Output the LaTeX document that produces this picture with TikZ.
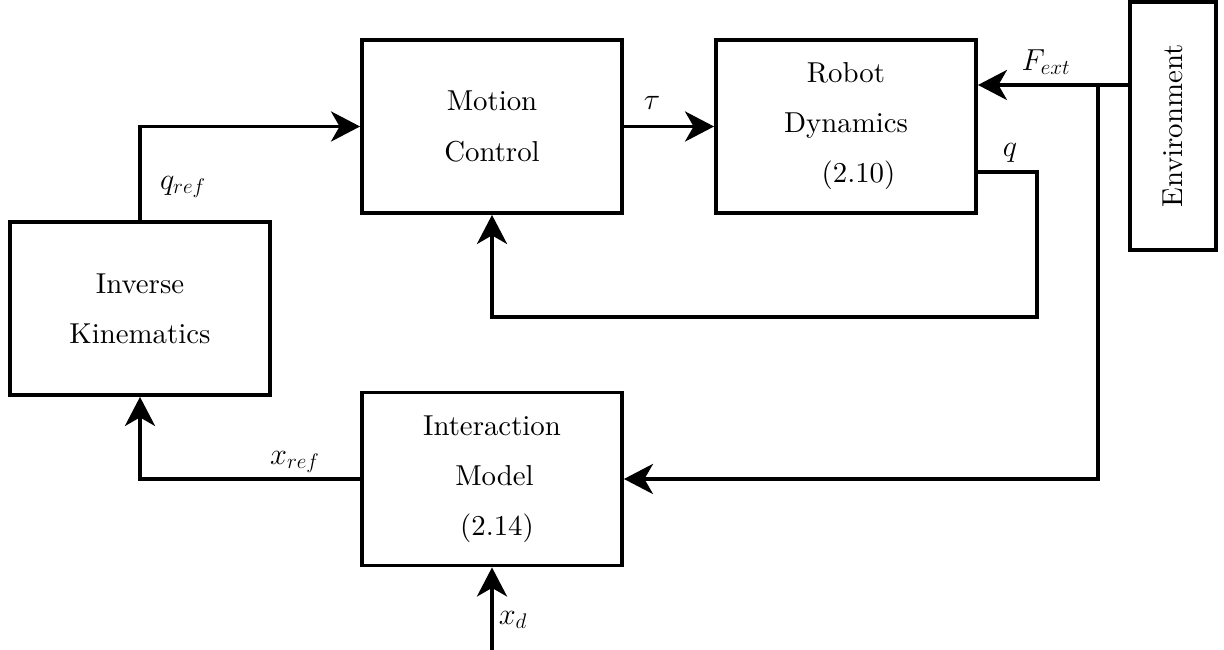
\documentclass[tikz,border=0pt]{standalone}
\usepackage{amsmath,amsfonts,amssymb}
\usepackage{fontspec}
\setmainfont{lmroman10-regular.otf}[ItalicFont=lmroman10-italic.otf,BoldFont=lmroman10-bold.otf]
\usepackage{tikz}
\usetikzlibrary{arrows.meta}

\begin{document}
\begin{tikzpicture}
      \useasboundingbox(0,0) rectangle (24.48,13);
      \tikzset{B/.style = {shape=rectangle, draw, line width=2.2pt, minimum width=5.2cm, minimum height=3.46cm, inner sep=0pt, align=center, font=\fontsize{16.4}{19}\selectfont}}
      \tikzset{E/.style = {draw, line width=2.2pt, -{Stealth[length=0.58cm,width=0.6cm,inset=0.17cm]}}}
      \tikzset{L/.style = {font=\fontsize{17}{20}\selectfont, inner sep=0pt}}
      \node[B](ik) at (2.8,6.83) {Inverse\\[9.5pt]Kinematics};
      \node[B](mc) at (9.84,10.47) {Motion\\[9.5pt]Control};
      \node[B](rd) at (16.92,10.47) {Robot\\[9.5pt]Dynamics\\[9.5pt]\hspace{0.5cm}(2.10)};
      \node[B](im) at (9.84,3.42) {Interaction\\[9.5pt]\hspace{0.1cm}Model\\[9.5pt]\hspace{0.2cm}(2.14)};
      \node[B,minimum width=1.72cm,minimum height=4.96cm](env) at (23.46,10.48) {\rotatebox{90}{Environment}};
      \coordinate (fout) at (22.6,11.3);
      \coordinate (split) at (21.96,11.3);
      \coordinate (qout) at (19.52,9.56);
      \coordinate (qc) at (20.74,6.66);
      \coordinate (xd) at (9.84,0);
      \draw[E](ik.north) |- (mc.west);
      \draw[E](mc.east) -- (rd.west);
      \draw[E](fout) -- (fout -| rd.east);
      \draw[E](split) |- (im.east);
      \draw[E](qout) -| (qc) -| (mc.south);
      \draw[E](im.west) -| (ik.south);
      \draw[E](xd) -- (im.south);
      \node[L](tau) at (13.04,10.94) {$\tau$};
      \node[L](fext) at (20.92,11.76) {$F_{ext}$};
      \node[L](q) at (20.2,9.94) {$q$};
      \node[L](qref) at (3.66,9.26) {$q_{ref}$};
      \node[L](xref) at (5.9,3.76) {$x_{ref}$};
      \node[L](xdl) at (10.26,0.6) {$x_d$};
    \end{tikzpicture}
\end{document}
